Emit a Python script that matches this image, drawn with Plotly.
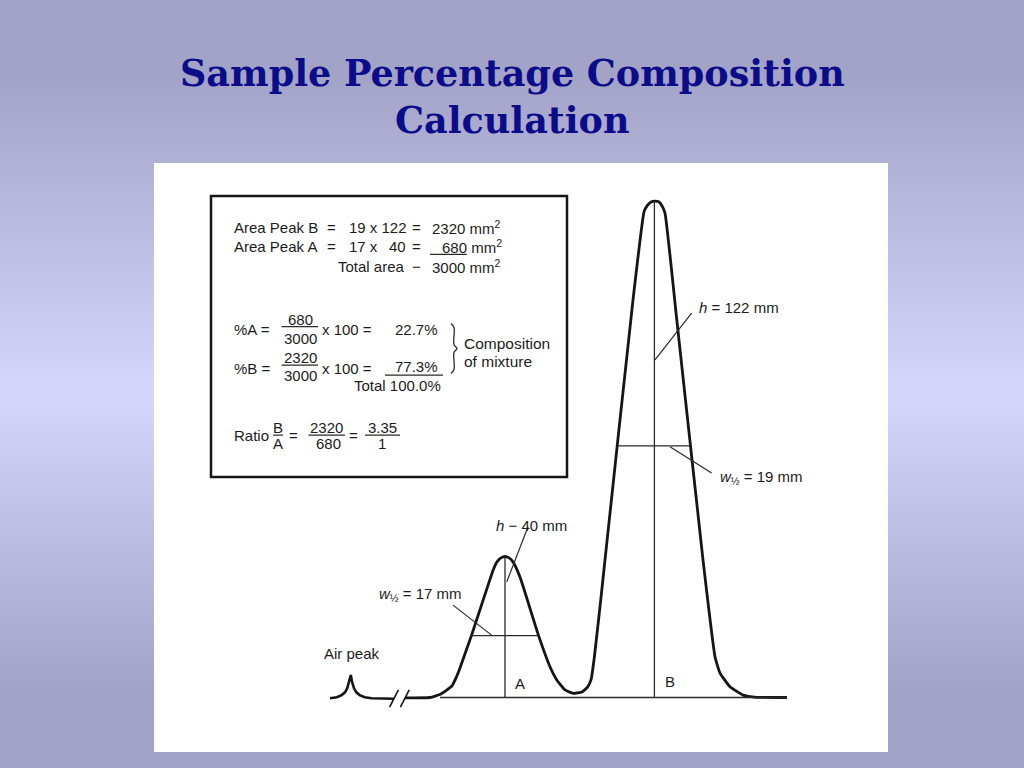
import plotly.graph_objects as go

# ---------------- data (drawing units, baseline = 0) ----------------
# air peak and baseline up to the break
air_x = [44.0, 45.7, 46.9, 47.75, 48.3, 48.8, 49.2, 49.5, 50.0, 50.6, 51.4, 52.7, 54.4, 60.0]
air_y = [-0.2, 0.05, 0.6, 1.3, 2.3, 3.95, 5.6, 3.95, 2.3, 1.3, 0.6, 0.05, -0.2, -0.3]

# chromatogram after the break (peaks A and B)
chrom_x = [62.75, 69.0, 71.75, 73.25, 74.5, 75.5, 76.5, 79.4, 82.3, 84.8, 85.75, 86.75, 87.75,
           88.75, 89.75, 91.5, 96.1, 99.0, 100.7, 102.75, 104.8, 107.0, 108.4, 109.3, 110.1,
           111.6, 112.75, 119.75, 122.5, 123.25, 124.25, 125.25, 126.25, 127.0, 127.75, 130.7,
           137.25, 140.25, 141.5, 144.0, 147.25, 150.7, 158.25]
chrom_y = [-0.1, 0.0, 0.9, 1.9, 2.9, 4.9, 7.4, 15.6, 24.4, 31.9, 33.9, 34.9, 35.25,
           34.9, 33.9, 30.1, 15.6, 7.7, 4.4, 1.9, 1.05, 1.4, 2.6, 4.6, 10.2,
           23.6, 34.4, 99.4, 121.4, 122.9, 123.9, 124.1, 123.9, 122.9, 121.1, 94.4,
           34.4, 10.2, 6.1, 2.7, 0.6, 0.05, 0.0]

# break marks
break_x = [58.9, 61.1, None, 61.6, 63.8]
break_y = [-2.4, 1.9, None, -2.4, 1.9]

# baseline under the peaks
base_x = [71.5, 158.25]
base_y = [0.0, 0.0]

# peak construction lines
peak_names = ["A", "B"]
peak_cx = [87.75, 125.1]
peak_top = [35.1, 124.1]
half_y = [15.45, 62.9]
half_x0 = [79.25, 116.0]
half_x1 = [96.0, 134.0]

# leader lines (from mark to label)
lead_x = [74.75, 84.4, None, 88.2, 93.5, None, 125.25, 134.4, None, 129.0, 139.4]
lead_y = [23.1, 15.6, None, 28.95, 42.7, None, 84.4, 96.1, None, 62.7, 56.1]

# brace "}"
brace_x = [74.25, 75.0, 75.0, 75.75, 75.0, 75.0, 74.25]
brace_y = [93.5, 92.5, 88.25, 87.25, 86.25, 82.0, 81.0]

# measured values
w_half = [17, 19]          # mm
heights = [40, 122]        # mm
areas = [680, 2320]        # mm2
total_area = 3000
percent = [22.7, 77.3]
ratio = 3.35

# ---------------- figure ----------------
fig = go.Figure()
INK = "#151515"
THIN = "#2a2a2a"

fig.add_trace(go.Scatter(x=air_x, y=air_y, mode="lines",
                         line=dict(color=INK, width=2.6), hoverinfo="skip"))
fig.add_trace(go.Scatter(x=chrom_x, y=chrom_y, mode="lines",
                         line=dict(color=INK, width=2.8, shape="spline", smoothing=0.4),
                         hoverinfo="skip"))
fig.add_trace(go.Scatter(x=break_x, y=break_y, mode="lines",
                         line=dict(color=INK, width=1.6), hoverinfo="skip"))
fig.add_trace(go.Scatter(x=base_x, y=base_y, mode="lines",
                         line=dict(color=THIN, width=1.6), hoverinfo="skip"))

vx, vy, hx, hy = [], [], [], []
for cx, top, hy_, x0, x1 in zip(peak_cx, peak_top, half_y, half_x0, half_x1):
    vx += [cx, cx, None]
    vy += [0, top, None]
    hx += [x0, x1, None]
    hy += [hy_, hy_, None]
fig.add_trace(go.Scatter(x=vx, y=vy, mode="lines", line=dict(color=THIN, width=1.3), hoverinfo="skip"))
fig.add_trace(go.Scatter(x=hx, y=hy, mode="lines", line=dict(color=THIN, width=1.3), hoverinfo="skip"))
fig.add_trace(go.Scatter(x=lead_x, y=lead_y, mode="lines", line=dict(color=THIN, width=1.2), hoverinfo="skip"))
fig.add_trace(go.Scatter(x=brace_x, y=brace_y, mode="lines",
                         line=dict(color=THIN, width=1.3, shape="spline", smoothing=1.0), hoverinfo="skip"))

# fraction bars and underlines in the box
bars_x = [31.9, 41.0, None, 31.9, 41.0, None, 29.75, 32.25, None, 38.6, 47.75, None,
          52.75, 61.5, None, 69.0, 78.2, None, 57.75, 72.25]
bars_y = [92.7, 92.7, None, 83.1, 83.1, None, 65.6, 65.6, None, 65.6, 65.6, None,
          65.6, 65.6, None, 110.8, 110.8, None, 80.6, 80.6]
fig.add_trace(go.Scatter(x=bars_x, y=bars_y, mode="lines", line=dict(color=THIN, width=1.2), hoverinfo="skip"))

# ---------------- background ----------------
shapes = []
dark = (162, 163, 198)
light = (213, 213, 252)
for i in range(0, 768, 4):
    yc = i + 2
    if yc <= 392:
        t = (yc - 75) / (385 - 75)
    else:
        t = (690 - yc) / (690 - 400)
    t = max(0.0, min(1.0, t))
    c = tuple(round(d + (l - d) * t) for d, l in zip(dark, light))
    shapes.append(dict(type="rect", xref="paper", yref="paper", x0=0, x1=1,
                       y0=1 - (i + 5) / 768, y1=1 - i / 768, layer="below",
                       fillcolor="rgb(%d,%d,%d)" % c, line=dict(width=0)))
shapes.append(dict(type="rect", xref="paper", yref="paper", x0=154 / 1024, x1=888 / 1024,
                   y0=16 / 768, y1=605 / 768, layer="below", fillcolor="white", line=dict(width=0)))
# text box frame
shapes.append(dict(type="rect", xref="x", yref="y", x0=14.25, x1=103.25, y0=55.1, y1=125.4,
                   line=dict(color=INK, width=2.5)))

# ---------------- texts ----------------
ann = []
FONT = "Liberation Sans, Arial, sans-serif"


def txt(x, y, s, anchor="left", size=15):
    ann.append(dict(x=x, y=y, xref="x", yref="y", text=s, showarrow=False,
                    xanchor=anchor, yanchor="middle",
                    font=dict(family=FONT, size=size, color="#1c1c1c")))


mm2 = " mm<sup>2</sup>"
# area rows
txt(19.4, 117.55, "Area Peak B")
txt(44.4, 117.55, "=", "center")
txt(48.2, 117.55, "%d x %d" % (w_half[1], heights[1]))
txt(65.7, 117.55, "=", "center")
txt(69.0, 117.55, "%d%s" % (areas[1], mm2))
txt(19.4, 112.7, "Area Peak A")
txt(44.4, 112.7, "=", "center")
txt(48.2, 112.7, "%d x" % w_half[0])
txt(58.2, 112.7, "%d" % heights[0])
txt(65.7, 112.7, "=", "center")
txt(71.5, 112.7, "%d%s" % (areas[0], mm2))
txt(63.2, 107.7, "Total area", "right")
txt(65.7, 107.7, "−", "center")
txt(69.0, 107.7, "%d%s" % (total_area, mm2))

# percentages
txt(19.5, 91.9, "%A =")
txt(36.5, 94.4, "%d" % areas[0], "center")
txt(36.5, 89.8, "%d" % total_area, "center")
txt(41.5, 91.9, "x 100 =")
txt(71.5, 91.9, "%.1f%%" % percent[0], "right")
txt(19.5, 82.3, "%B =")
txt(36.5, 84.95, "%d" % areas[1], "center")
txt(36.5, 80.6, "%d" % total_area, "center")
txt(41.5, 82.3, "x 100 =")
txt(71.5, 82.7, "%.1f%%" % percent[1], "right")
txt(72.3, 77.95, "Total %.1f%%" % (percent[0] + percent[1]), "right")
txt(77.0, 88.55, "Composition", size=15.5)
txt(77.0, 83.95, "of mixture", size=15.5)

# ratio
txt(19.5, 65.45, "Ratio")
txt(31.0, 67.4, "B", "center")
txt(31.0, 63.55, "A", "center")
txt(34.75, 65.6, "=", "center")
txt(43.2, 67.4, "%d" % areas[1], "center")
txt(43.6, 63.55, "%d" % areas[0], "center")
txt(49.75, 65.6, "=", "center")
txt(57.1, 67.4, "%.2f" % ratio, "center")
txt(57.0, 63.55, "1", "center")

# chart labels
txt(49.5, 10.9, "Air peak", "center")
txt(66.5, 25.7, "<i>w</i><sub>½</sub> = %d mm" % w_half[0], "center")
txt(94.4, 43.1, "<i>h</i> − %d mm" % heights[0], "center")
txt(146.25, 97.4, "<i>h</i> = %d mm" % heights[1], "center")
txt(151.9, 55.1, "<i>w</i><sub>½</sub> = %d mm" % w_half[1], "center")
txt(91.5, 3.4, peak_names[0], "center")
txt(129.0, 3.95, peak_names[1], "center")

# title
TITLE_C = "#0c0c8a"
ann.append(dict(x=0.5, y=1 - 74 / 768, xref="paper", yref="paper", showarrow=False,
                text="<b>Sample Percentage Composition</b>", xanchor="center", yanchor="middle",
                font=dict(family="DejaVu Serif, serif", size=36.5, color=TITLE_C)))
ann.append(dict(x=0.5, y=1 - 120 / 768, xref="paper", yref="paper", showarrow=False,
                text="<b>Calculation</b>", xanchor="center", yanchor="middle",
                font=dict(family="DejaVu Serif, serif", size=36.5, color=TITLE_C)))

fig.update_layout(
    width=1024, height=768,
    margin=dict(l=0, r=0, t=0, b=0),
    paper_bgcolor="rgb(162,163,198)",
    plot_bgcolor="rgba(0,0,0,0)",
    showlegend=False,
    shapes=shapes,
    annotations=ann,
    xaxis=dict(domain=[154 / 1024, 888 / 1024], range=[0, 183.5], visible=False, fixedrange=True),
    yaxis=dict(domain=[16 / 768, 605 / 768], range=[-13.625, 133.625], visible=False, fixedrange=True),
)

fig.write_html("out.html")
